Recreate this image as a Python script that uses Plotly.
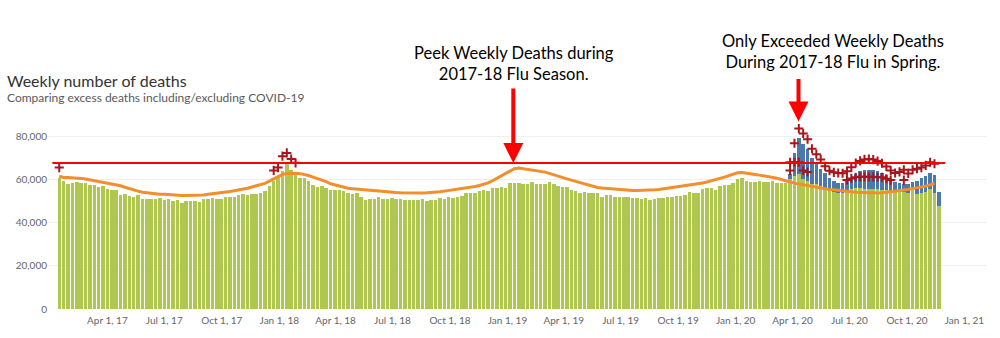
import pandas as pd
import plotly.graph_objects as go

# ---------------- data (thousands of deaths) ----------------
first_week = "2017-01-14"

deaths_excl_k = [
    60.9, 59.2, 57.9, 58.3, 58.9, 58.3, 58.3, 57.3, 57.3, 56.5,
    57.0, 55.5, 55.0, 55.0, 52.9, 53.2, 52.4, 52.0, 52.6, 50.9,
    51.0, 51.0, 50.9, 51.2, 50.6, 50.9, 49.8, 50.5, 49.1, 49.8,
    50.2, 50.2, 49.4, 50.8, 50.8, 51.4, 51.0, 51.0, 52.1, 51.7,
    52.1, 52.6, 53.3, 52.9, 53.3, 53.3, 53.8, 54.7, 57.0, 59.5,
    61.7, 64.1, 67.0, 64.5, 62.0, 60.9, 60.9, 59.4, 57.6, 56.5,
    56.8, 55.9, 55.2, 55.0, 55.2, 54.8, 53.6, 53.3, 53.5, 51.7,
    50.5, 50.8, 50.8, 51.7, 51.1, 50.8, 51.2, 50.8, 51.1, 50.3,
    50.3, 50.6, 50.5, 50.8, 50.2, 50.5, 50.5, 51.4, 50.9, 51.7,
    51.4, 51.8, 52.3, 53.5, 53.5, 53.5, 54.7, 55.0, 54.8, 56.1,
    56.2, 56.5, 55.9, 58.3, 58.3, 58.3, 57.9, 57.9, 58.6, 58.0,
    57.9, 57.9, 58.6, 57.9, 56.8, 56.4, 56.5, 55.2, 54.7, 53.6,
    54.1, 53.5, 53.5, 53.5, 52.1, 52.6, 53.0, 52.1, 52.1, 52.0,
    52.0, 51.4, 51.4, 51.1, 51.2, 50.6, 50.9, 51.2, 51.6, 51.7,
    51.7, 52.4, 52.4, 53.0, 54.1, 53.8, 53.8, 55.6, 56.1, 56.2,
    55.3, 57.1, 57.6, 57.3, 58.2, 60.0, 60.6, 59.2, 58.8, 58.8,
    59.2, 58.6, 59.0, 59.2, 58.3, 58.2, 58.5, 60.0, 61.7, 62.3,
    60.0, 59.2, 57.9, 57.9, 57.1, 55.6, 54.7, 54.1, 53.6, 53.8,
    55.2, 55.6, 55.9, 55.9, 55.8, 55.8, 55.8, 55.6, 55.2, 55.0,
    54.7, 54.4, 54.2, 54.4, 53.6, 55.6, 53.4, 53.8, 54.4, 55.6,
    53.6, 47.6,
]

covid_first_week = "2020-03-28"
deaths_incl_k = [
    62.7, 72.3, 79.0, 76.6, 74.0, 70.0, 67.3, 65.0, 63.0, 60.8,
    59.3, 58.3, 58.2, 59.5, 60.8, 62.5, 64.0, 64.5, 64.5, 64.2,
    63.8, 63.2, 62.0, 60.2, 59.0, 58.4, 57.9, 58.0, 59.0, 59.2,
    60.5, 61.5, 62.8, 62.2, 54.1,
]

expected_k = [
    61.5, 60.9, 60.9, 60.8, 60.8, 60.5, 60.2, 59.8, 59.4, 59.0,
    58.7, 58.4, 58.0, 57.5, 57.1, 56.4, 55.7, 55.1, 54.6, 54.1,
    53.8, 53.6, 53.4, 53.2, 53.1, 52.9, 52.8, 52.7, 52.6, 52.6,
    52.6, 52.6, 52.7, 52.8, 53.1, 53.3, 53.5, 53.8, 54.1, 54.4,
    54.8, 55.1, 55.4, 55.9, 56.5, 57.1, 57.6, 58.2, 59.2, 60.2,
    61.2, 62.3, 62.8, 63.0, 62.9, 62.7, 62.3, 61.8, 61.1, 60.5,
    59.8, 59.0, 58.0, 57.5, 57.0, 56.3, 55.9, 55.7, 55.5, 55.3,
    55.2, 55.0, 54.8, 54.6, 54.4, 54.3, 54.2, 54.0, 53.9, 53.8,
    53.7, 53.6, 53.6, 53.7, 53.8, 53.9, 54.1, 54.3, 54.6, 54.9,
    55.2, 55.5, 55.8, 56.0, 56.2, 56.7, 57.2, 57.7, 58.4, 59.4,
    60.5, 61.6, 62.8, 64.0, 65.0, 65.3, 65.0, 64.5, 64.2, 64.0,
    63.8, 63.4, 62.8, 62.1, 61.5, 60.9, 60.3, 59.7, 59.1, 58.5,
    57.8, 57.2, 56.7, 56.3, 56.0, 55.8, 55.6, 55.4, 55.2, 55.1,
    55.0, 54.9, 54.9, 54.9, 55.0, 55.1, 55.2, 55.4, 55.7, 55.9,
    56.2, 56.4, 56.7, 56.9, 57.2, 57.5, 57.9, 58.4, 58.8, 59.3,
    59.9, 60.5, 61.1, 61.8, 62.5, 63.1, 63.2, 63.0, 62.7, 62.3,
    62.0, 61.7, 61.4, 61.0, 60.6, 60.0, 59.3, 58.8, 58.3, 57.9,
    57.5, 57.1, 56.7, 56.3, 56.0, 55.7, 55.4, 55.2, 54.9, 54.7,
    54.5, 54.3, 54.1, 54.0, 53.8, 53.7, 53.6, 53.7, 53.8, 54.0,
    54.2, 54.5, 54.8, 55.1, 55.4, 55.7, 56.0, 56.4, 56.9, 57.5,
    58.2,
]

# weeks flagged above threshold (+ markers): week index and marker level
plus_excl_week = [0, 49, 50, 51, 52, 53, 54, 167, 168, 169, 170, 171,
                  180, 181, 182, 183, 184, 185, 186, 187, 188, 189, 190, 193]
plus_excl_k = [65.5, 64.2, 65.5, 70.8, 72.3, 69.5, 67.7, 64.2, 68.0, 68.0, 64.2, 63.5,
               59.8, 60.5, 61.0, 61.2, 61.2, 61.2, 61.2, 61.0, 61.0, 60.3, 59.7, 59.7]

plus_incl_week = list(range(167, 201))
plus_incl_k = [68.0, 76.8, 83.6, 81.3, 78.6, 74.2, 71.7, 69.3, 66.1, 64.0,
               63.3, 63.0, 62.9, 63.8, 65.6, 67.6, 68.6, 69.3, 69.5, 69.2,
               68.5, 67.5, 66.0, 64.1, 63.0, 63.5, 64.5, 62.8, 64.5, 65.0,
               65.5, 66.5, 68.0, 67.3]

flu_peak_k = 67.6
arrow2_tip_k = 86.9

tick_dates = ["2017-04-01", "2017-07-01", "2017-10-01", "2018-01-01", "2018-04-01",
              "2018-07-01", "2018-10-01", "2019-01-01", "2019-04-01", "2019-07-01",
              "2019-10-01", "2020-01-01", "2020-04-01", "2020-07-01", "2020-10-01",
              "2021-01-01"]
tick_labels = ["Apr 1, 17", "Jul 1, 17", "Oct 1, 17", "Jan 1, 18", "Apr 1, 18",
               "Jul 1, 18", "Oct 1, 18", "Jan 1, 19", "Apr 1, 19", "Jul 1, 19",
               "Oct 1, 19", "Jan 1, 20", "Apr 1, 20", "Jul 1, 20", "Oct 1, 20",
               "Jan 1, 21"]
y_ticks = [0, 20000, 40000, 60000, 80000]

title_text = "Weekly number of deaths"
subtitle_text = "Comparing excess deaths including/excluding COVID-19"
note_left = "Peek Weekly Deaths during<br>2017-18 Flu Season."
note_right = "Only Exceeded Weekly Deaths<br>During 2017-18 Flu in Spring."

# ---------------- derived ----------------
K = 1000
weeks = pd.date_range(first_week, periods=len(deaths_excl_k), freq="7D")
covid_weeks = pd.date_range(covid_first_week, periods=len(deaths_incl_k), freq="7D")
exp_weeks = weeks[:len(expected_k)]

GREEN = "#afc74f"
BLUE = "#4a79ad"
ORANGE = "#f28e2b"
PLUS = "#a8161c"
RED = "#ff0000"
BAR_W = 5.6 * 86400000

fig = go.Figure()
fig.add_trace(go.Bar(x=covid_weeks, y=[v * K for v in deaths_incl_k],
                     marker=dict(color=BLUE, line=dict(width=0)), width=BAR_W,
                     name="Including COVID-19"))
fig.add_trace(go.Bar(x=weeks, y=[v * K for v in deaths_excl_k],
                     marker=dict(color=GREEN, line=dict(width=0)), width=BAR_W,
                     name="Excluding COVID-19"))
fig.add_trace(go.Scatter(x=exp_weeks, y=[v * K for v in expected_k], mode="lines",
                         line=dict(color=ORANGE, width=3), name="Expected"))
fig.add_trace(go.Scatter(x=[weeks[i] for i in plus_excl_week],
                         y=[v * K for v in plus_excl_k], mode="markers",
                         marker=dict(symbol="cross-thin", size=6.5, color=PLUS,
                                     line=dict(color=PLUS, width=2))))
fig.add_trace(go.Scatter(x=[weeks[i] for i in plus_incl_week],
                         y=[v * K for v in plus_incl_k], mode="markers",
                         marker=dict(symbol="cross-thin", size=6.5, color=PLUS,
                                     line=dict(color=PLUS, width=2))))

fig.add_shape(type="line", xref="x", yref="y",
              x0=weeks[0] - pd.Timedelta(days=11), x1=weeks[-1] + pd.Timedelta(days=10),
              y0=flu_peak_k * K, y1=flu_peak_k * K,
              line=dict(color=RED, width=2), layer="above")

PLOT_L, PLOT_W, PLOT_B, PLOT_H = 48, 939, 313, 193.6


def px(x):
    return (x - PLOT_L) / PLOT_W


def py(y):
    return (PLOT_B - y) / PLOT_H


annotations = [
    dict(text=title_text, xref="paper", yref="paper", x=px(5), y=py(80),
         xanchor="left", yanchor="middle", showarrow=False,
         font=dict(family="Lato", size=16, color="#333333")),
    dict(text=subtitle_text, xref="paper", yref="paper", x=px(5), y=py(98),
         xanchor="left", yanchor="middle", showarrow=False,
         font=dict(family="Lato", size=12, color="#595959")),
    dict(text=note_left, xref="paper", yref="paper", x=px(513.6), y=py(63),
         xanchor="center", yanchor="middle", showarrow=False,
         font=dict(family="Lato", size=16.5, color="#000000")),
    dict(text=note_right, xref="paper", yref="paper", x=px(833), y=py(50.5),
         xanchor="center", yanchor="middle", showarrow=False,
         font=dict(family="Lato", size=16.5, color="#000000")),
    dict(text="", xref="paper", yref="y", x=px(513.3), y=flu_peak_k * K,
         ax=0, ay=-76, showarrow=True, arrowhead=2, arrowsize=1, arrowwidth=4,
         arrowcolor=RED),
    dict(text="", xref="paper", yref="y", x=px(798.5), y=arrow2_tip_k * K,
         ax=0, ay=-44, showarrow=True, arrowhead=2, arrowsize=1, arrowwidth=4,
         arrowcolor=RED),
]

fig.update_layout(
    width=1000, height=338,
    margin=dict(l=PLOT_L, r=1000 - PLOT_L - PLOT_W, t=PLOT_B - PLOT_H, b=338 - PLOT_B),
    plot_bgcolor="white", paper_bgcolor="white",
    barmode="overlay", bargap=0, showlegend=False,
    font=dict(family="Lato", color="#666666"),
    annotations=annotations,
    xaxis=dict(type="date", range=["2016-12-27", "2021-02-06"],
               tickvals=tick_dates, ticktext=tick_labels, showgrid=False,
               showline=False, zeroline=False, ticks="", ticklabelstandoff=4,
               tickfont=dict(family="Lato", size=10, color="#666666")),
    yaxis=dict(range=[0, 88000], tickvals=y_ticks, tickformat=",",
               showgrid=True, gridcolor="#efefef", gridwidth=1, zeroline=False,
               showline=False, ticks="",
               tickfont=dict(family="Lato", size=10, color="#666666")),
)

fig.write_html("out.html")
